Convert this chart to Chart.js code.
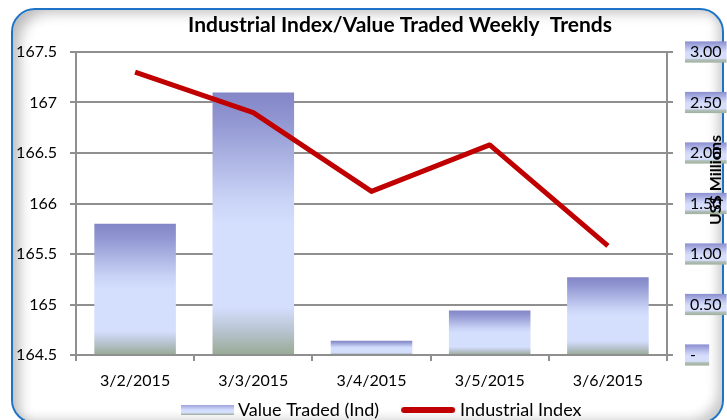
<!DOCTYPE html>
<html><head><meta charset="utf-8">
<script src="https://cdn.jsdelivr.net/npm/chart.js@4.4.1/dist/chart.umd.min.js"></script>
<style>
html,body{margin:0;padding:0;background:#fff;width:727px;height:420px;overflow:hidden;}
#frame{position:absolute;left:11px;top:8px;width:709px;height:412px;border:2.5px solid #1f73c6;border-radius:24px;background:#fff;
box-shadow:inset 14px 10px 14px -8px rgba(0,0,0,0.28), inset -12px -10px 12px -8px rgba(0,0,0,0.22);}
#wrap{position:absolute;left:0;top:0;width:727px;height:420px;}
</style></head><body>
<div id="frame"></div>
<div id="wrap"><canvas id="c" width="727" height="420"></canvas></div>
<script>
const chartTitle = 'Industrial Index/Value Traded Weekly  Trends';
const rightAxisTitle = 'US$ Millions';
const categories = ['3/2/2015', '3/3/2015', '3/4/2015', '3/5/2015', '3/6/2015'];
const valueTraded = [1.30, 2.60, 0.14, 0.44, 0.77];
const industrialIndex = [167.30, 166.90, 166.12, 166.58, 165.58];
const seriesNames = ['Value Traded (Ind)', 'Industrial Index'];
const leftTickMin = 164.5, leftTickMax = 167.5, leftTickStep = 0.5;
const rightTickMin = 0, rightTickMax = 3, rightTickStep = 0.5;

const FONT = 'Lato, "Open Sans", sans-serif';
const LEGEND_PAD = 18;

function makeBarGradient(c, top, base) {
  const g = c.createLinearGradient(0, top, 0, base);
  g.addColorStop(0, '#8385c7');
  g.addColorStop(0.12, '#9399d3');
  g.addColorStop(0.40, '#c8d2f5');
  g.addColorStop(0.50, '#d4defd');
  g.addColorStop(0.82, '#d4defd');
  g.addColorStop(0.91, '#b7c3cf');
  g.addColorStop(1, '#98aa94');
  return g;
}

function barFill(ctx) {
  const chart = ctx.chart;
  if (ctx.type !== 'data' || !chart.scales || !chart.scales.y1) return '#c9d3f7';
  const s = chart.scales.y1;
  const top = s.getPixelForValue(ctx.raw), base = s.getPixelForValue(0);
  if (!isFinite(top) || !isFinite(base) || base - top < 1) return '#c9d3f7';
  return makeBarGradient(chart.ctx, top, base);
}

function backdropFill(ctx) {
  const g = ctx.chart.ctx.createLinearGradient(0, -10.6, 0, 10.6);
  g.addColorStop(0, '#8a8ecf');
  g.addColorStop(0.40, '#c6cef4');
  g.addColorStop(0.55, '#d6defb');
  g.addColorStop(0.80, '#d6defb');
  g.addColorStop(0.86, '#b3c0bd');
  g.addColorStop(1, '#9eb09b');
  return g;
}

// legend swatches
const barSwatch = document.createElement('canvas');
barSwatch.width = 64; barSwatch.height = 12;
(function(){
  const c = barSwatch.getContext('2d');
  const g = c.createLinearGradient(0, 1, 0, 11);
  g.addColorStop(0, '#9ea3db');
  g.addColorStop(0.5, '#d4defd');
  g.addColorStop(0.75, '#d4defd');
  g.addColorStop(1, '#9aab96');
  c.fillStyle = g; c.fillRect(11, 1, 53, 10);
})();
const lineSwatch = document.createElement('canvas');
lineSwatch.width = 64; lineSwatch.height = 8;
(function(){
  const c = lineSwatch.getContext('2d');
  c.strokeStyle = '#c00000'; c.lineWidth = 6; c.lineCap = 'round';
  c.beginPath(); c.moveTo(12, 4); c.lineTo(60, 4); c.stroke();
})();

const decor = {
  id: 'decor',
  afterLayout(chart) {
    const lg = chart.legend;
    if (lg && lg.lineWidths) {
      const start = (lg.left + LEGEND_PAD + lg.right - lg.lineWidths[0]) / 2;
      const dx = 175 - start;
      const dy = 410 - (lg.top + LEGEND_PAD + 9);
      lg.left += dx; lg.right += dx; lg.top += dy; lg.bottom += dy;
    }
    const x = chart.scales.x;
    if (x) { x.bottom = x.top + 50; }
  },
  afterDraw(chart) {
    const c = chart.ctx;
    c.save();
    c.fillStyle = '#000';
    c.font = 'bold 21px ' + FONT;
    c.textAlign = 'center'; c.textBaseline = 'middle';
    c.fillText(chartTitle, 400, 25);
    c.translate(716, 180);
    c.rotate(-Math.PI / 2);
    c.font = 'bold 16px ' + FONT;
    c.fillText(rightAxisTitle, 0, 0);
    c.restore();
  }
};

const GRID = '#8f8f8f';

function build() {
  Chart.defaults.font.family = FONT;
  Chart.defaults.font.size = 16;
  Chart.defaults.color = '#000';
  new Chart(document.getElementById('c'), {
    data: {
      labels: categories,
      datasets: [
        { type: 'bar', label: seriesNames[0], data: valueTraded, yAxisID: 'y1', order: 1,
          backgroundColor: barFill, borderWidth: 0, barPercentage: 0.69, categoryPercentage: 1 },
        { type: 'line', label: seriesNames[1], data: industrialIndex, yAxisID: 'y', order: 0,
          borderColor: '#c00000', backgroundColor: '#c00000', borderWidth: 5, pointRadius: 0,
          tension: 0, borderJoinStyle: 'round', fill: false }
      ]
    },
    options: {
      responsive: false, animation: false,
      layout: { padding: { top: 52, left: 0, right: 0, bottom: 0 } },
      plugins: {
        title: { display: false },
        tooltip: { enabled: false },
        legend: {
          position: 'bottom',
          labels: {
            usePointStyle: true, pointStyleWidth: 54, padding: LEGEND_PAD, color: '#000',
            font: { size: 18 },
            sort: (a, b) => a.datasetIndex - b.datasetIndex,
            generateLabels: (chart) => chart.data.datasets.map((ds, i) => ({
              text: ds.label, pointStyle: i === 0 ? barSwatch : lineSwatch, datasetIndex: i,
              hidden: false, lineWidth: 0, fillStyle: 'rgba(0,0,0,0)', strokeStyle: 'rgba(0,0,0,0)', fontColor: '#000'
            }))
          }
        }
      },
      scales: {
        x: {
          offset: true,
          grid: { display: true, offset: true, drawOnChartArea: false, drawTicks: true, tickLength: 6, color: GRID, lineWidth: 2 },
          border: { display: true, color: GRID, width: 2 },
          ticks: { padding: 10, maxRotation: 0, autoSkip: false, font: { size: 16 } },
          afterFit: (s) => {
            const lh = (s.chart.legend && s.chart.legend.height) || 46;
            s.height = Math.max(1, 420 - 355 - lh);
          }
        },
        y: {
          position: 'left', min: leftTickMin, max: leftTickMax,
          ticks: { stepSize: leftTickStep, padding: 13, font: { size: 16 }, callback: (v) => String(Number(v)) },
          grid: { color: GRID, lineWidth: 2, tickLength: 6 },
          border: { display: true, color: GRID, width: 2 },
          afterFit: (s) => { s.width = 76; }
        },
        y1: {
          position: 'right', min: rightTickMin, max: rightTickMax,
          ticks: {
            stepSize: rightTickStep, padding: 17, font: { size: 16 },
            callback: (v) => v === 0 ? '-  ' : Number(v).toFixed(2),
            showLabelBackdrop: true, backdropColor: backdropFill, backdropPadding: { top: 1, bottom: 1, left: 5, right: 5 }
          },
          grid: { drawOnChartArea: false, color: GRID, lineWidth: 2, tickLength: 6 },
          border: { display: true, color: GRID, width: 2 },
          afterFit: (s) => { s.width = 60; }
        }
      }
    },
    plugins: [decor]
  });
}

if (document.fonts && document.fonts.load) {
  Promise.all([document.fonts.load('16px Lato'), document.fonts.load('bold 18px Lato')]).then(build, build);
} else { build(); }
</script>
</body></html>
